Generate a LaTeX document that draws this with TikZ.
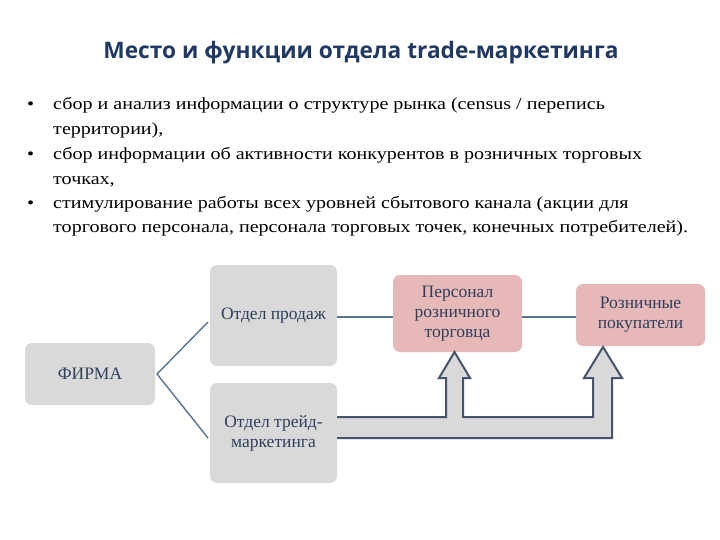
\documentclass[tikz,border=0pt]{standalone}
\usepackage{fontspec}
\setmainfont{Liberation Serif}
\newfontfamily\titlefont{Open Sans}
\begin{document}
\begin{tikzpicture}[x=1pt,y=-1pt,
  box/.style={fill=boxgray,rounded corners=7pt,font=\fontsize{17.5}{20}\selectfont,text=boxtext,align=center,inner sep=0pt},
  pbox/.style={box,fill=boxpink},
  ln/.style={draw=linecol,line width=1.4pt},
  btxt/.style={anchor=base west,inner sep=0pt,font=\fontsize{17}{20}\selectfont,xscale=1.18}]
\definecolor{boxgray}{HTML}{D9D9D9}
\definecolor{boxpink}{HTML}{E6B9B8}
\definecolor{boxtext}{HTML}{2E3F5C}
\definecolor{linecol}{HTML}{5A7390}
\definecolor{arrcol}{HTML}{44546A}
\definecolor{titlecol}{HTML}{1F3864}
\useasboundingbox (0,0) rectangle (720,540);
\fill[white] (0,0) rectangle (720,540);
\node[font=\titlefont\bfseries\fontsize{22.7}{26}\selectfont,text=titlecol] (title) at (361,53) {Место и функции отдела trade-маркетинга};
\foreach \y/\b/\t in {
 110/1/{сбор и анализ информации о структуре рынка (census / перепись},
 135/0/{территории),},
 160/1/{сбор информации об активности конкурентов в розничных торговых},
 185/0/{точках,},
 209/1/{стимулирование работы всех уровней сбытового канала (акции для},
 233/0/{торгового персонала, персонала торговых точек, конечных потребителей).}}{
  \node[btxt] at (53,\y) {\t};
  \ifnum\b=1 \node[btxt] at (27,\y) {•};\fi
}
\node[box,minimum width=130pt,minimum height=62pt] (firm) at (90,374) {ФИРМА};
\node[box,minimum width=127pt,minimum height=101pt] (sales) at (273.5,315.5) {Отдел продаж};
\node[box,minimum width=127pt,minimum height=100pt] (trade) at (273.5,433) {Отдел трейд-\\маркетинга};
\node[pbox,minimum width=129pt,minimum height=77pt] (staff) at (457.5,313.5) {Персонал\\розничного\\торговца};
\node[pbox,minimum width=129pt,minimum height=62pt] (cust) at (640.5,315) {Розничные\\покупатели};
\coordinate (apex) at (157,374);
\draw[ln] (208,322) -- (apex) -- (208,438);
\draw[ln] (sales.east |- 0,317) -- (staff.west |- 0,317);
\draw[ln] (staff.east |- 0,317) -- (cust.west |- 0,317);
\draw[draw=arrcol,line width=2pt,fill=boxgray,line join=miter]
  (trade.east |- 0,417) -- (446,417) -- (446,378) -- (439,378) -- (454.5,352) -- (470,378) -- (463,378) -- (463,417)
  -- (593,417) -- (593,378) -- (584,378) -- (603,347) -- (622,378) -- (612,378) -- (612,438) -- (trade.east |- 0,438);
\end{tikzpicture}
\end{document}
